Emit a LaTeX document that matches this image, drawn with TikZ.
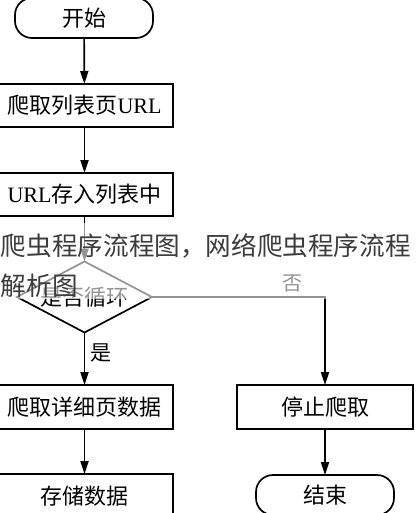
\documentclass[tikz,border=0pt]{standalone}
\usepackage{fontspec}
\usetikzlibrary{shapes.geometric,arrows.meta}
\newfontfamily\song{Noto Sans CJK SC}
\newfontfamily\capfont{Noto Sans CJK SC}
\newfontfamily\tnr{Liberation Serif}
\definecolor{capgrey}{HTML}{3C3C3C}
\begin{document}
\begin{tikzpicture}[x=1pt,y=-1pt,
  every node/.style={inner sep=0pt,outer sep=0pt},
  boxnode/.style={draw,line width=1.7pt,minimum width=177pt,minimum height=43pt,
    font=\song\fontsize{22}{26}\selectfont},
  termnode/.style={draw,line width=1.7pt,rounded corners=17pt,minimum width=138pt,
    minimum height=40pt,font=\song\fontsize{22}{26}\selectfont},
  decnode/.style={draw,line width=1.7pt,shape=diamond,aspect=1.9,minimum width=135pt,
    minimum height=71pt,font=\song\fontsize{22}{26}\selectfont},
  lbl/.style={font=\song\fontsize{21}{24}\selectfont},
  arr/.style={line width=1.7pt,-{Triangle[length=13pt,width=8pt]}},
  captext/.style={anchor=base west,text=capgrey,font=\capfont\fontsize{25.6}{30}\selectfont}
  ]
\useasboundingbox (0,0) rectangle (416,513);
\clip (0,0) rectangle (416,513);
% left column
\node[termnode] (start) at (84,18) {开始};
\node[boxnode] (b1) at (84.5,105.5) {爬取列表页{\tnr URL}};
\node[boxnode] (b2) at (84.5,194.5) {{\tnr URL}存入列表中};
\node[decnode] (dec) at (84.5,297) {是否循环};
\node[boxnode,minimum height=44pt] (b3) at (84.5,407) {爬取详细页数据};
\node[boxnode,minimum height=44pt] (b4) at (84.5,496) {存储数据};
% right column
\node[boxnode,minimum width=176pt,minimum height=44pt] (stop) at (325,407) {停止爬取};
\node[termnode] (fin) at (325,495) {结束};
% connectors
\draw[arr] (start) -- (b1);
\draw[arr] (b1) -- (b2);
\draw[arr] (b2) -- (dec.north);
\draw[arr] (dec.south) -- (b3);
\draw[arr] (b3) -- (b4);
\draw[arr] (dec.east) -| (stop.north);
\draw[arr] (stop) -- (fin);
% labels
\node[lbl] (yes) at (101,353) {是};
\node[lbl,font=\song\fontsize{20}{24}\selectfont] (no) at (292,283) {否};
% caption overlay
\fill[white,fill opacity=0.58] (0,223) rectangle (416,299);
\node[captext] (cap1) at (1,255) {爬虫程序流程图，网络爬虫程序流程};
\node[captext] (cap2) at (1,295) {解析图};
\end{tikzpicture}
\end{document}
